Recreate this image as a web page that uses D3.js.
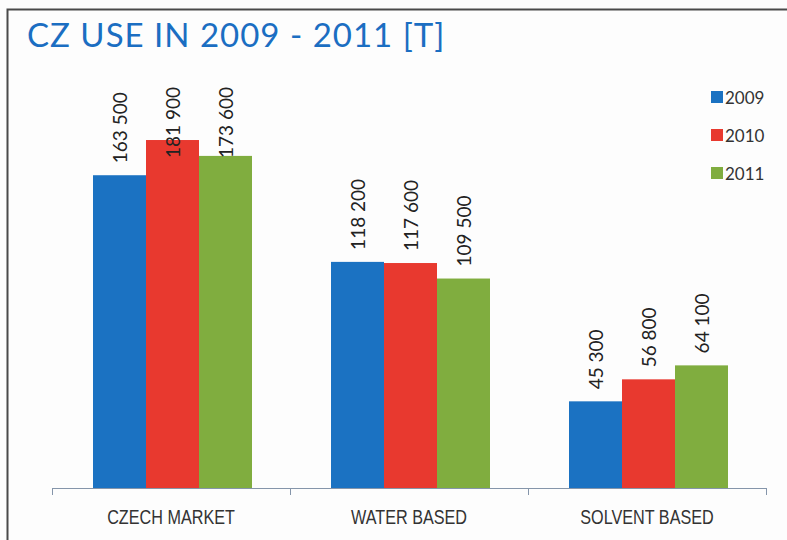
<!DOCTYPE html>
<html>
<head>
<meta charset="utf-8">
<script src="https://cdn.jsdelivr.net/npm/d3@7"></script>
<style>
  body { margin: 0; background: #fff; }
  svg { display: block; }
</style>
</head>
<body>
<div id="chart"></div>
<script>
const canvas = { w: 787, h: 540 };

const categories = ["CZECH MARKET", "WATER BASED", "SOLVENT BASED"];
const years = ["2009", "2010", "2011"];
const values2009 = [163500, 118200, 45300];
const values2010 = [181900, 117600, 56800];
const values2011 = [173600, 109500, 64100];
const yearColors = ["#1b72c2", "#e8392f", "#80ad3f"];

const seriesByYear = [values2009, values2010, values2011];
const rows = categories.map((c, i) => ({
  cat: c,
  vals: years.map((y, j) => ({ year: y, idx: j, v: seriesByYear[j][i] }))
}));

const baseY = 488;
const fmt = v => d3.format(",")(v).replace(",", " ");

const svg = d3.select("#chart")
  .append("svg")
  .attr("width", canvas.w)
  .attr("height", canvas.h)
  .attr("viewBox", `0 0 ${canvas.w} ${canvas.h}`);

svg.append("rect")
  .attr("width", canvas.w).attr("height", canvas.h)
  .attr("fill", "#fdfdfd");

// frame, left and top edges only
svg.append("path")
  .attr("d", `M7.5,${canvas.h} V9.5 H${canvas.w}`)
  .attr("fill", "none")
  .attr("stroke", "#4a4a4a")
  .attr("stroke-width", 2);

svg.append("text")
  .attr("x", 27).attr("y", 47)
  .attr("fill", "#1b6ec2")
  .style("font-family", "Lato, 'Open Sans', sans-serif")
  .style("font-size", "33px")
  .style("letter-spacing", "1px")
  .text("CZ USE IN 2009 - 2011 [T]");

const x = d3.scaleBand()
  .domain(categories)
  .range([52, 766])
  .padding(0);

const x1 = d3.scaleBand()
  .domain(years)
  .range([41, 200])
  .padding(0);

const y = d3.scaleLinear()
  .domain([0, 200000])
  .range([baseY, 105.4]);

const groups = svg.append("g")
  .selectAll("g")
  .data(rows)
  .join("g")
  .attr("transform", d => `translate(${x(d.cat)},0)`);

groups.selectAll("rect")
  .data(d => d.vals)
  .join("rect")
  .attr("x", d => x1(d.year))
  .attr("y", d => y(d.v))
  .attr("width", x1.bandwidth())
  .attr("height", d => baseY - y(d.v))
  .attr("fill", d => yearColors[d.idx]);

groups.selectAll("text.val")
  .data(d => d.vals)
  .join("text")
  .attr("class", "val")
  .attr("transform", d => {
    const cx = x1(d.year) + x1.bandwidth() / 2;
    const by = Math.max(y(d.v) - 12, 158);
    return `translate(${cx + 7},${by}) rotate(-90)`;
  })
  .attr("fill", "#222")
  .style("font-family", "Lato, 'Open Sans', sans-serif")
  .style("font-size", "19px")
  .text(d => fmt(d.v));

// category axis: ticks sit on the band edges, labels at band centres
const axis = svg.append("g").attr("stroke", "#8595aa");
axis.append("line")
  .attr("x1", x.range()[0]).attr("x2", x.range()[1])
  .attr("y1", baseY + 0.5).attr("y2", baseY + 0.5);
const edges = categories.map(c => x(c)).concat([x.range()[1]]);
axis.selectAll("line.tick")
  .data(edges)
  .join("line")
  .attr("class", "tick")
  .attr("x1", d => d + 0.5).attr("x2", d => d + 0.5)
  .attr("y1", baseY).attr("y2", baseY + 7);

// no narrow font installed, so squeeze the labels horizontally
svg.append("g")
  .selectAll("text")
  .data(categories)
  .join("text")
  .attr("transform", d => `translate(${x(d) + x.bandwidth() / 2},524) scale(0.81,1)`)
  .attr("text-anchor", "middle")
  .attr("fill", "#333")
  .style("font-family", "'Liberation Sans', Arial, sans-serif")
  .style("font-size", "20px")
  .text(d => d);

// legend
const legend = svg.append("g")
  .selectAll("g")
  .data(years)
  .join("g")
  .attr("transform", (d, i) => `translate(711,${97 + i * 38})`);

legend.append("rect")
  .attr("x", 0).attr("y", -6)
  .attr("width", 12).attr("height", 12)
  .attr("fill", (d, i) => yearColors[i]);

legend.append("text")
  .attr("x", 14).attr("y", 6.5)
  .attr("fill", "#333")
  .style("font-family", "Lato, 'Open Sans', sans-serif")
  .style("font-size", "17px")
  .text(d => d);
</script>
</body>
</html>
